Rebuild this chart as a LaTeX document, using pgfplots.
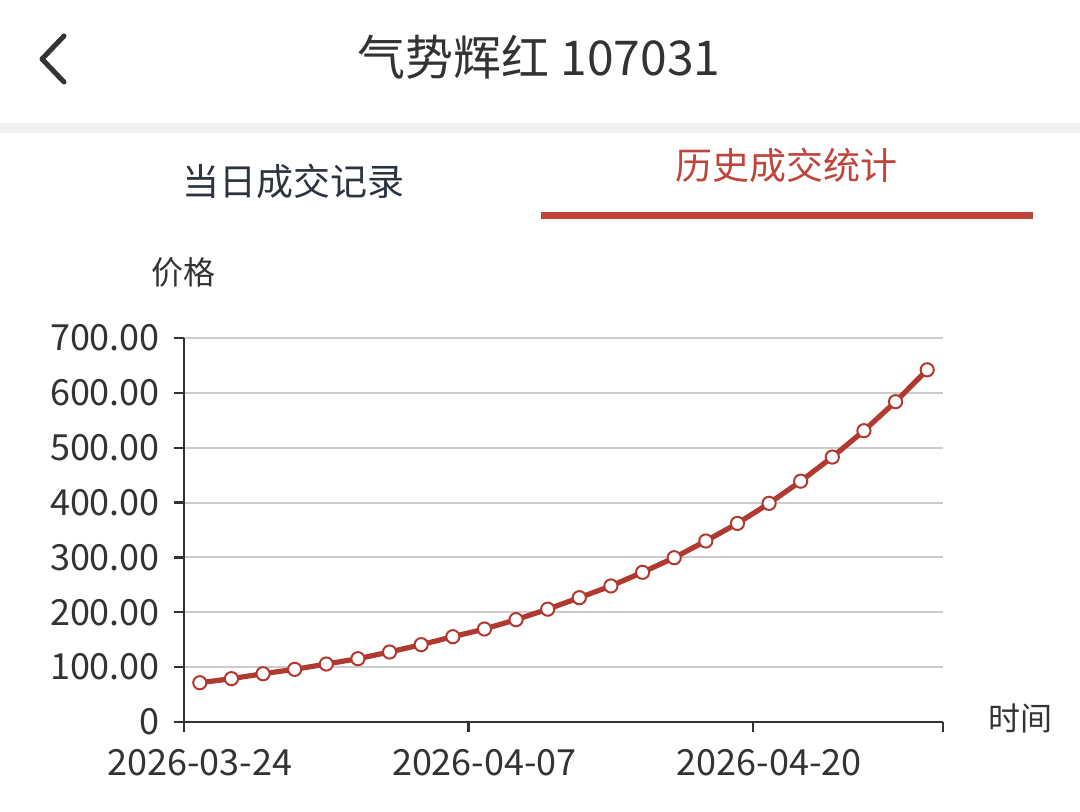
\documentclass[border=0pt]{standalone}
\usepackage{pgfplots}
\pgfplotsset{compat=1.18}
\usepackage{fontspec}
\setmainfont{Noto Sans CJK SC}
\definecolor{linered}{HTML}{B13A30}
\definecolor{tabred}{HTML}{C0443A}
\definecolor{txt}{HTML}{333333}
\definecolor{tabtxt}{HTML}{2C3440}
\definecolor{gridc}{HTML}{CCCCCC}
\definecolor{band}{HTML}{F2F2F2}

% price per trading day, 24 days
\pgfplotstableread{
i price
0 71.6
1 79.0
2 88.0
3 96.0
4 105.7
5 115.4
6 127.6
7 141.0
8 155.5
9 169.5
10 186.5
11 205.7
12 226.6
13 248.0
14 272.9
15 299.5
16 330.0
17 362.0
18 398.6
19 439.0
20 483.0
21 531.0
22 583.9
23 642.0
}\pricetable

\begin{document}
\begin{tikzpicture}
\begin{scope}[x=0.5pt,y=-0.5pt]
\fill[white] (0,0) rectangle (1080,812);
\fill[band] (0,123) rectangle (1080,133);
% header
\draw[txt, line width=2.5pt, line cap=round, line join=round] (64,36) -- (42,59) -- (64,82);
\node[txt, font=\fontsize{24}{24}\selectfont] at (539,57) {气势辉红 107031};
% tabs
\node[tabtxt, font=\fontsize{18.5}{18.5}\selectfont] at (293,181) {当日成交记录};
\node[tabred, font=\fontsize{18.5}{18.5}\selectfont] at (786,165) {历史成交统计};
\fill[tabred] (541,212) rectangle (1033,219);
% axis names
\node[txt, font=\fontsize{16}{16}\selectfont] at (183,272) {价格};
\node[txt, font=\fontsize{16}{16}\selectfont] at (1020,718) {时间};
\end{scope}

\begin{axis}[
    at={(92pt,-361pt)}, anchor=south west,
    scale only axis,
    width=379.5pt, height=192pt,
    xmin=-0.5, xmax=23.5,
    ymin=0, ymax=700,
    axis lines=left,
    axis line style={-, txt, line width=1.4pt},
    tick align=outside,
    tick style={txt, line width=1.2pt},
    major tick length=5pt,
    xtick={-0.5,8.5,17.5,23.5},
    xticklabels={},
    extra x ticks={0,9,18},
    extra x tick labels={2026-03-24,2026-04-07,2026-04-20},
    extra x tick style={major tick length=0pt, grid=none},
    ytick={0,100,200,300,400,500,600,700},
    yticklabels={0,100.00,200.00,300.00,400.00,500.00,600.00,700.00},
    ymajorgrids=true,
    grid style={gridc, line width=1pt},
    ticklabel style={txt, font=\fontsize{18}{18}\selectfont},
    xticklabel style={yshift=-10pt},
    yticklabel style={xshift=-3.5pt},
    clip=false,
]
\addplot[linered, line width=2.6pt, mark=*, mark size=3.3pt,
    mark options={fill=white, draw=linered, line width=1pt}]
    table[x=i, y=price] {\pricetable};
\end{axis}
\end{tikzpicture}
\end{document}
